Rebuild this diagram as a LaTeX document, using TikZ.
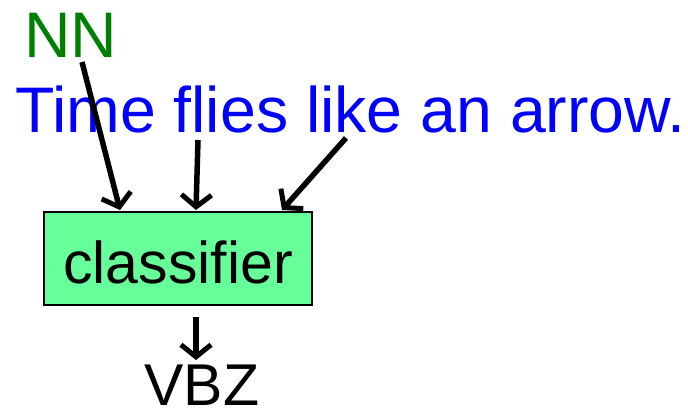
\documentclass[tikz,border=0pt]{standalone}
\usepackage{fontspec}
\setmainfont{Liberation Sans}
\usetikzlibrary{arrows.meta}
\definecolor{boxgreen}{HTML}{66FF99}
\definecolor{tagcolor}{HTML}{008000}
\begin{document}
\begin{tikzpicture}[x=1pt,y=-1pt,
  bigtext/.style={inner sep=0pt,font=\fontsize{64.4}{64.4}\selectfont},
  midtext/.style={inner sep=0pt,font=\fontsize{59}{59}\selectfont},
  feed/.style={line width=5.5pt,-{Straight Barb[length=12pt,width=30pt,line width=5pt]}},
  clsbox/.style={draw=black,line width=2pt,fill=boxgreen,inner sep=0pt,minimum width=268pt,minimum height=93pt}]
  \useasboundingbox (0,0) rectangle (688,413);
  % tag and sentence
  \node[bigtext,text=tagcolor,anchor=base west] (tag) at (24,57) {NN};
  \node[bigtext,text=blue,anchor=base west] (sent) at (15,132) {Time flies like an arrow.};
  % classifier box
  \node[clsbox] (cls) at (178,258.5) {};
  \node[midtext,anchor=base] (clstext) at (178,283) {classifier};
  % output tag
  \node[midtext,anchor=base] (out) at (202,405) {VBZ};
  % arrow start and end points
  \coordinate (s1) at (82,62);
  \coordinate (e1) at (120,210);
  \coordinate (s2) at (198,140);
  \coordinate (e2) at (196,210);
  \coordinate (s3) at (346,138);
  \coordinate (e3) at (282,210);
  \coordinate (s4) at (196,317);
  \coordinate (e4) at (196,360);
  \draw[feed] (s1) -- (e1);
  \draw[feed] (s2) -- (e2);
  \draw[feed] (s3) -- (e3);
  \draw[feed] (s4) -- (e4);
\end{tikzpicture}
\end{document}
